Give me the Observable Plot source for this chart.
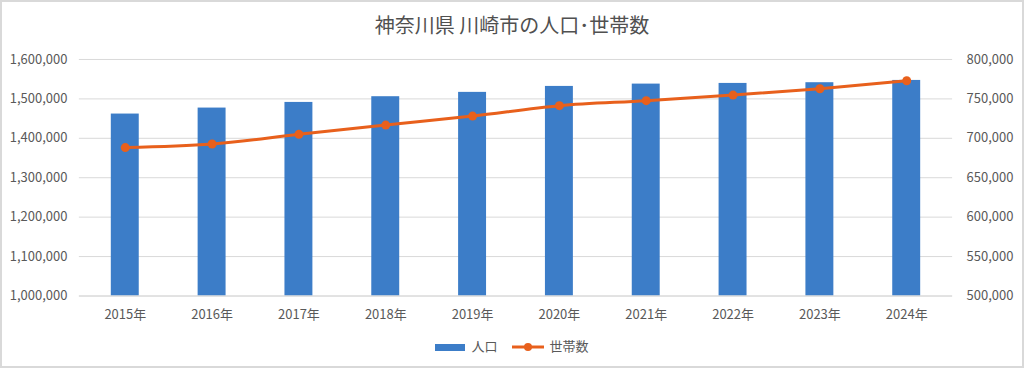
<!DOCTYPE html>
<html><head><meta charset="utf-8">
<script src="https://cdn.jsdelivr.net/npm/d3@7"></script>
<script src="https://cdn.jsdelivr.net/npm/@observablehq/plot@0.6"></script>
<style>
html,body{margin:0;padding:0;background:#fff;}
#wrap{position:relative;width:1024px;height:368px;box-sizing:border-box;border:2px solid #d9d9d9;overflow:hidden;font-family:"Noto Sans CJK JP","Noto Sans",sans-serif;}
#title{position:absolute;left:0;right:0;top:8px;text-align:center;font-size:20px;color:#505050;}
#chart{position:absolute;left:-2px;top:36px;}
#legend{position:absolute;left:0;right:0;top:334px;display:flex;justify-content:center;align-items:center;gap:14px;font-size:13px;color:#595959;}
.sw{display:inline-block;vertical-align:middle;margin-right:4px;}
</style></head>
<body>
<div id="wrap">
  <div id="title">神奈川県 川崎市の人口･世帯数</div>
  <div id="chart"></div>
  <div id="legend">
    <span><svg class="sw" width="32" height="10"><rect x="0" y="2" width="30" height="7" fill="#3c7dc8"/></svg>人口</span>
    <span><svg class="sw" width="34" height="10"><line x1="0" y1="5" x2="32" y2="5" stroke="#e8601c" stroke-width="3"/><circle cx="16" cy="5" r="4" fill="#e8601c"/></svg>世帯数</span>
  </div>
</div>
<script>
const years = ["2015年","2016年","2017年","2018年","2019年","2020年","2021年","2022年","2023年","2024年"];
const population = [1461500,1476700,1491000,1505500,1516500,1531600,1537500,1539200,1541000,1546800];
const households = [688200,692800,705000,716800,728200,741400,747700,754800,762900,773000];
const leftTicks = [1000000,1100000,1200000,1300000,1400000,1500000,1600000];

const data = years.map((y,i)=>({year:y,pop:population[i],hh:households[i]}));
// map right-axis (households, 500k–800k) onto left scale (1.0M–1.6M)
const toLeft = h => 1000000 + (h - 500000) * 2;
const fromLeft = v => 500000 + (v - 1000000) / 2;
const fmt = d3.format(",");

const chart = Plot.plot({
  width: 1024,
  height: 290,
  marginTop: 21,
  marginBottom: 32,
  marginLeft: 79,
  marginRight: 70,
  style: {fontFamily: '"Noto Sans CJK JP","Noto Sans",sans-serif', fontSize: "13px", color: "#595959"},
  x: {domain: years, paddingInner: 0.68, paddingOuter: 0.34},
  y: {domain: [1000000, 1600000]},
  marks: [
    Plot.gridY(leftTicks, {stroke: "#d9d9d9", strokeOpacity: 1, strokeWidth: 1}),
    Plot.barY(data, {x: "year", y1: 1000000, y2: "pop", fill: "#3c7dc8"}),
    Plot.ruleY([1000000], {stroke: "#d9d9d9"}),
    Plot.line(data, {x: "year", y: d => toLeft(d.hh), stroke: "#e8601c", strokeWidth: 3, curve: "monotone-x"}),
    Plot.dot(data, {x: "year", y: d => toLeft(d.hh), r: 4.5, fill: "#e8601c"}),
    Plot.axisY(leftTicks, {anchor: "left", tickSize: 0, tickPadding: 12, tickFormat: fmt, label: null, fill: "#595959"}),
    Plot.axisY(leftTicks, {anchor: "right", tickSize: 0, tickPadding: 14, tickFormat: v => fmt(fromLeft(v)), label: null, fill: "#595959"}),
    Plot.axisX({tickSize: 0, tickPadding: 14, label: null, fill: "#595959"})
  ]
});
document.getElementById("chart").appendChild(chart);
</script>
</body></html>
